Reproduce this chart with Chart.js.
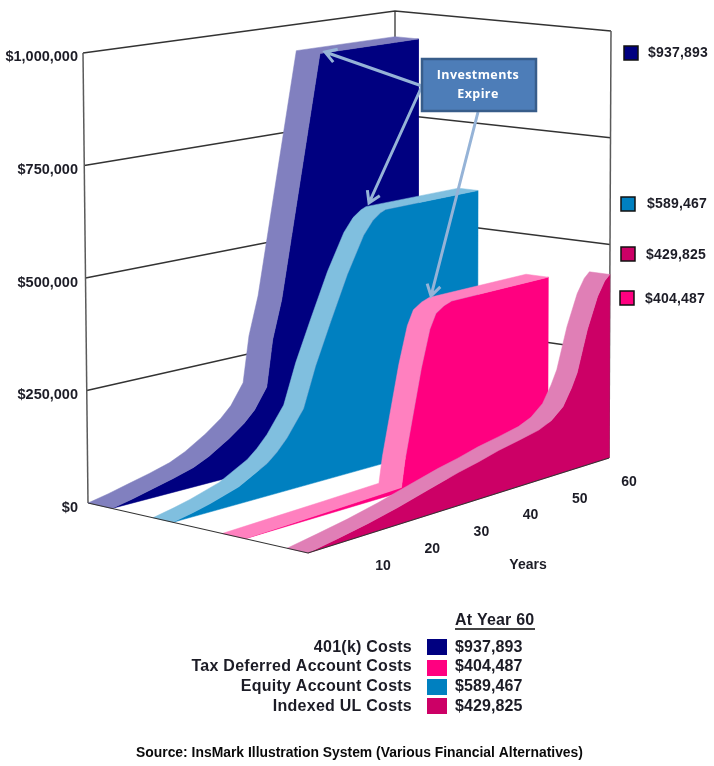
<!DOCTYPE html>
<html>
<head>
<meta charset="utf-8">
<style>
    html, body { margin: 0; padding: 0; background: #fff; }
    canvas { display: block; }
</style>
<script src="https://cdn.jsdelivr.net/npm/chart.js@4"></script>
</head>
<body>
<canvas id="costChart" width="714" height="766"></canvas>
<script>
// values
const years401k = [0, 4, 8, 12, 16, 19, 23, 26, 28, 30.4, 31.6, 33.4, 41, 60];
const costs401k = [0, 9000, 20000, 31000, 44000, 60000, 89000, 116000, 140000, 186000, 292000, 380000, 937893, 937893];
const yearsEquity = [0, 4, 7.3, 13, 18.6, 20.5, 22.5, 25.8, 28.2, 31.2, 34.5, 37.7, 39.5, 41, 42, 60];
const costsEquity = [0, 9000, 18000, 38000, 73000, 92000, 118000, 175000, 265000, 358000, 458000, 540000, 570000, 584000, 589467, 589467];
const yearsTaxDeferred = [0, 10, 20, 31, 31.7, 33.3, 35, 36.7, 37.9, 39.5, 41, 60];
const costsTaxDeferred = [0, 3000, 6000, 10000, 68000, 165000, 268000, 352000, 385000, 398000, 404487, 404487];
const yearsIndexedUL = [0, 6, 12, 18, 24, 30, 34, 38, 42, 46, 48.5, 50.8, 52.5, 53.6, 55.6, 57.6, 59, 60];
const costsIndexedUL = [0, 11000, 23000, 38000, 56000, 74000, 84000, 96000, 105000, 115000, 128000, 152000, 190000, 221000, 315000, 386000, 418000, 429825];

const seriesNames = ['401(k) Costs', 'Tax Deferred Account Costs', 'Equity Account Costs', 'Indexed UL Costs'];
const yearEndLabels = ['$937,893', '$404,487', '$589,467', '$429,825'];
const valueTicks = [0, 250000, 500000, 750000, 1000000];
const yearTicks = [10, 20, 30, 40, 50, 60];

const NAVY = '#000080', BLUE = '#0080c0', PINK = '#ff0080', CRIMSON = '#cc0066';
const NAVY_TOP = '#8180bf', BLUE_TOP = '#80bfdf', PINK_TOP = '#ff80bf', CRIMSON_TOP = '#e07fb6';

// box corners on the page: [year 0 back, year 0 front, year 60 back, year 60 front]
const floorCorners = [[88, 503], [308, 553], [395, 424], [609, 458]];
const topCorners = [[83, 53], [303, 88], [395, 11], [611, 31]];
const PX_PER_DOLLAR = 0.000451;
const ZERO_Y = 508;

function mix(a, b, t) { return a + (b - a) * t; }

function corner(corners, u, v, i) {
    return mix(mix(corners[0][i], corners[1][i], v), mix(corners[2][i], corners[3][i], v), u);
}

// year, depth (0 back .. 1 front) and dollars to x/y on the chart scales
function project(year, depth, dollars) {
    const u = year / 60;
    const h = dollars / 1000000;
    const px = mix(corner(floorCorners, u, depth, 0), corner(topCorners, u, depth, 0), h);
    const py = mix(corner(floorCorners, u, depth, 1), corner(topCorners, u, depth, 1), h);
    return { x: px, y: (ZERO_Y - py) / PX_PER_DOLLAR };
}

function ribbonDatasets(years, costs, back, front, faceColor, topColor) {
    const backEdge = years.map((y, i) => project(y, back, costs[i]));
    const frontEdge = years.map((y, i) => project(y, front, costs[i]));
    const band = backEdge.concat(frontEdge.slice().reverse(), [backEdge[0]]);
    const face = frontEdge.concat([project(60, front, 0), frontEdge[0]]);
    return [polygon(face, faceColor), polygon(band, topColor)];
}

function polygon(points, color) {
    return {
        data: points, showLine: true, fill: 'shape', backgroundColor: color,
        borderColor: color, borderWidth: 0.5, pointRadius: 0, tension: 0, clip: false
    };
}

function wallLine(points, color, width) {
    return {
        data: points, showLine: true, fill: false, borderColor: color,
        borderWidth: width, pointRadius: 0, tension: 0, clip: false
    };
}

const LINE_DARK = '#333333';
const layers = [];
valueTicks.slice(1).forEach(v => {
    layers.push(wallLine([project(0, 0, v), project(60, 0, v), project(60, 1, v)], LINE_DARK, 1.3));
});
layers.push(wallLine([project(0, 0, 0), project(0, 0, 1000000)], '#5a5a5a', 1.5));
layers.push(wallLine([project(60, 0, 0), project(60, 0, 1000000)], LINE_DARK, 1.3));
layers.push(wallLine([project(60, 1, 0), project(60, 1, 1000000)], '#5a5a5a', 1.5));
layers.push(...ribbonDatasets(years401k, costs401k, 0, 0.109, NAVY, NAVY_TOP));
layers.push(...ribbonDatasets(yearsEquity, costsEquity, 0.295, 0.386, BLUE, BLUE_TOP));
layers.push(...ribbonDatasets(yearsTaxDeferred, costsTaxDeferred, 0.61, 0.714, PINK, PINK_TOP));
layers.push(...ribbonDatasets(yearsIndexedUL, costsIndexedUL, 0.905, 1, CRIMSON, CRIMSON_TOP));
layers.push(wallLine([project(0, 0, 0), project(0, 1, 0), project(60, 1, 0)], '#333', 1.2));
layers.forEach((d, i) => { d.order = layers.length - i; });

function drawArrow(ctx, x1, y1, x2, y2) {
    const a = Math.atan2(y2 - y1, x2 - x1);
    ctx.beginPath();
    ctx.moveTo(x1, y1);
    ctx.lineTo(x2, y2);
    ctx.moveTo(x2 - 13 * Math.cos(a - 0.55), y2 - 13 * Math.sin(a - 0.55));
    ctx.lineTo(x2, y2);
    ctx.lineTo(x2 - 13 * Math.cos(a + 0.55), y2 - 13 * Math.sin(a + 0.55));
    ctx.stroke();
}

function label(ctx, text, x, y, align, font, color, spacing) {
    ctx.font = font;
    ctx.textAlign = align;
    ctx.textBaseline = 'middle';
    ctx.letterSpacing = (spacing || 0) + 'px';
    ctx.fillStyle = color || '#1c1c26';
    ctx.fillText(text, x, y + 1);
    ctx.letterSpacing = '0px';
}

function swatch(ctx, x, y, w, h, color, border) {
    ctx.fillStyle = color;
    ctx.fillRect(x, y, w, h);
    if (border) {
        ctx.strokeStyle = '#111';
        ctx.lineWidth = 1.5;
        ctx.strokeRect(x, y, w, h);
    }
}

const annotations = {
    id: 'annotations',
    afterDatasetsDraw(chart) {
        const ctx = chart.ctx;
        ctx.save();
        const bold14 = 'bold 14px "Liberation Sans"';
        const bold16 = 'bold 16px "Liberation Sans"';

        // year labels along the floor
        yearTicks.forEach(y => {
            const t = (y - 10) / 50;
            label(ctx, String(y), mix(383, 629, t), mix(565, 481, t), 'center', bold14);
        });
        label(ctx, 'Years', 528, 564, 'center', bold14);

        // legend on the right
        swatch(ctx, 624, 46, 14, 14, NAVY, true);
        label(ctx, yearEndLabels[0], 648, 52, 'left', bold14, null, 0.2);
        swatch(ctx, 621, 197, 14, 14, BLUE, true);
        label(ctx, yearEndLabels[2], 647, 203, 'left', bold14, null, 0.2);
        swatch(ctx, 621, 247, 14, 14, CRIMSON, true);
        label(ctx, yearEndLabels[3], 646, 254, 'left', bold14, null, 0.2);
        swatch(ctx, 620, 291, 14, 14, PINK, true);
        label(ctx, yearEndLabels[1], 645, 298, 'left', bold14, null, 0.2);

        // callout
        ctx.strokeStyle = '#95b3d7';
        ctx.lineWidth = 3;
        drawArrow(ctx, 422, 86, 325, 52);
        drawArrow(ctx, 422, 86, 369, 203);
        drawArrow(ctx, 478, 112, 431, 296);
        ctx.fillStyle = '#4d7db8';
        ctx.fillRect(422, 59, 114, 52);
        ctx.strokeStyle = '#385d8a';
        ctx.lineWidth = 2.5;
        ctx.strokeRect(422, 59, 114, 52);
        label(ctx, 'Investments', 478, 74, 'center', 'bold 12.5px "Open Sans"', '#fff', 0.4);
        label(ctx, 'Expire', 478, 93, 'center', 'bold 12.5px "Open Sans"', '#fff', 0.4);

        // table under the chart
        label(ctx, 'At Year 60', 455, 620, 'left', bold16, null, 0.2);
        ctx.fillStyle = '#444';
        ctx.fillRect(455, 628, 80, 2);
        const rowY = [647, 666, 686, 706];
        const boxY = [639, 660, 679, 698];
        const rowColors = [NAVY, PINK, BLUE, CRIMSON];
        seriesNames.forEach((name, i) => {
            label(ctx, name, 412, rowY[i], 'right', bold16, null, 0.25);
            swatch(ctx, 427, boxY[i], 20, 16, rowColors[i], false);
            label(ctx, yearEndLabels[i], 455, rowY[i], 'left', bold16, null, 0.1);
        });
        label(ctx, 'Source: InsMark Illustration System (Various Financial Alternatives)',
            136, 752, 'left', 'bold 13.9px "Liberation Sans"', '#0a0a0a');
        ctx.restore();
    }
};

new Chart(document.getElementById('costChart'), {
    type: 'scatter',
    data: { datasets: layers },
    plugins: [annotations],
    options: {
        responsive: false,
        animation: false,
        events: [],
        layout: { padding: 0 },
        plugins: { legend: { display: false }, tooltip: { enabled: false } },
        scales: {
            x: { type: 'linear', display: false, min: 80, max: 714 },
            y: {
                type: 'linear',
                min: (ZERO_Y - 766) / PX_PER_DOLLAR,
                max: ZERO_Y / PX_PER_DOLLAR,
                grid: { display: false, drawTicks: false },
                border: { display: false },
                afterBuildTicks(scale) { scale.ticks = valueTicks.map(v => ({ value: v })); },
                afterFit(scale) { scale.width = 80; scale.paddingTop = 0; scale.paddingBottom = 0; },
                ticks: {
                    autoSkip: false,
                    padding: 2,
                    color: '#1c1c26',
                    font: { family: '"Liberation Sans"', size: 14.5, weight: 'bold' },
                    callback: v => '$' + v.toLocaleString('en-US')
                }
            }
        }
    }
});
</script>
</body>
</html>
